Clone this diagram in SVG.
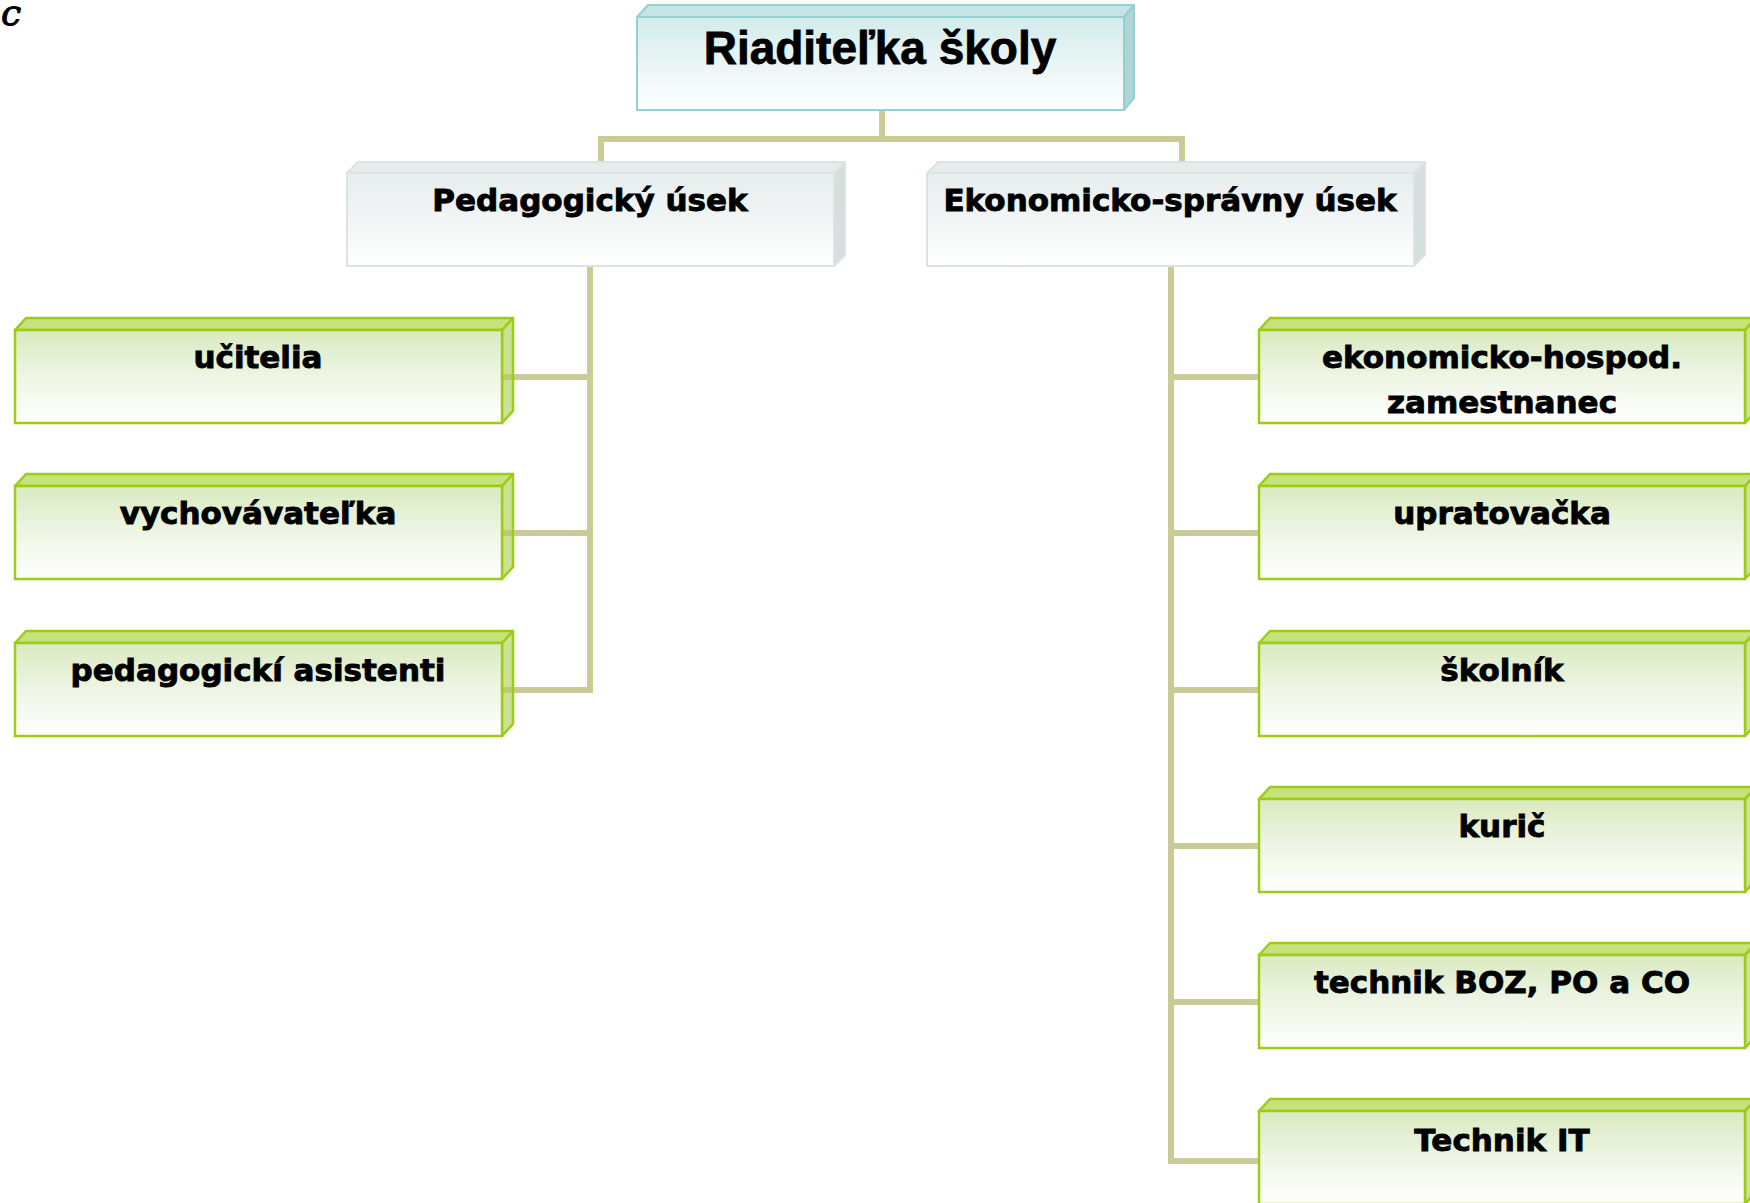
<svg xmlns="http://www.w3.org/2000/svg" width="1750" height="1203" viewBox="0 0 1750 1203">
<style>
.g-front{fill:url(#gGreen);stroke:#9ccc14;stroke-width:2.5}
.g-top{fill:#c6e27c;stroke:#9ccc14;stroke-width:2.5;stroke-linejoin:round}
.g-side{fill:#a9cf4c;fill-opacity:0.6;stroke:#9ccc14;stroke-width:2.5;stroke-linejoin:round}
.b-front{fill:url(#gBlue);stroke:#96cfcf;stroke-width:2}
.b-top{fill:#c5e4e4;stroke:#96cfcf;stroke-width:2;stroke-linejoin:round}
.b-side{fill:#aed5d5;stroke:#96cfcf;stroke-width:2;stroke-linejoin:round}
.s-front{fill:url(#gGray);stroke:#dbe3e3;stroke-width:2}
.s-top{fill:#e6ecec;stroke:#dbe3e3;stroke-width:2;stroke-linejoin:round}
.s-side{fill:#d6dede;stroke:#dbe3e3;stroke-width:2;stroke-linejoin:round}
.conn{fill:none;stroke:#cbcb98;stroke-width:6;stroke-linecap:square;stroke-linejoin:miter}
.lbl{font-family:"DejaVu Sans",Verdana,sans-serif;font-weight:bold;font-size:31px;fill:#000;stroke:#000;stroke-width:0.9;text-anchor:middle}
.title{font-family:"Liberation Sans",Arial,sans-serif;font-weight:bold;font-size:46px;fill:#000;stroke:#000;stroke-width:0.8;text-anchor:middle}
</style>
<defs>
<linearGradient id="gGreen" x1="0" y1="0" x2="0" y2="1">
<stop offset="0" stop-color="#d9eac0"/><stop offset="0.5" stop-color="#eef5e4"/><stop offset="1" stop-color="#ffffff"/>
</linearGradient>
<linearGradient id="gBlue" x1="0" y1="0" x2="0" y2="1">
<stop offset="0" stop-color="#d3ebeb"/><stop offset="0.55" stop-color="#ecf6f6"/><stop offset="1" stop-color="#ffffff"/>
</linearGradient>
<linearGradient id="gGray" x1="0" y1="0" x2="0" y2="1">
<stop offset="0" stop-color="#e6eded"/><stop offset="0.55" stop-color="#f3f6f6"/><stop offset="1" stop-color="#ffffff"/>
</linearGradient>
</defs>
<rect width="1750" height="1203" fill="#ffffff"/>
<text x="1" y="25" font-family="'DejaVu Serif',serif" font-style="italic" font-size="36" fill="#000" stroke="#000" stroke-width="1">c</text>

<g id="connectors">
<polyline class="conn" points="882,110 882,139"/>
<polyline class="conn" points="601,173 601,139 1182,139 1182,173"/>
<polyline class="conn" points="590,266 590,690"/>
<polyline class="conn" points="495,377 590,377"/>
<polyline class="conn" points="495,533 590,533"/>
<polyline class="conn" points="495,690 590,690"/>
<polyline class="conn" points="1171,266 1171,1161 1259,1161"/>
<polyline class="conn" points="1171,377 1259,377"/>
<polyline class="conn" points="1171,533 1259,533"/>
<polyline class="conn" points="1171,690 1259,690"/>
<polyline class="conn" points="1171,846 1259,846"/>
<polyline class="conn" points="1171,1002 1259,1002"/>
</g>

<g id="node-riaditelka">
<polygon class="b-top" points="637,17 648,5 1134,5 1124,17"/>
<polygon class="b-side" points="1124,17 1134,5 1134,98 1124,110"/>
<rect class="b-front" x="637" y="17" width="487" height="93"/>
<text class="title" x="880" y="64">Riaditeľka školy</text>
</g>

<g id="node-pedagogicky">
<polygon class="s-top" points="347,173 358,162 845,162 834,173"/>
<polygon class="s-side" points="834,173 845,162 845,255 834,266"/>
<rect class="s-front" x="347" y="173" width="487" height="93"/>
<text class="lbl" x="590" y="211">Pedagogický úsek</text>
</g>

<g id="node-ekonomicko">
<polygon class="s-top" points="927,173 938,162 1425,162 1414,173"/>
<polygon class="s-side" points="1414,173 1425,162 1425,255 1414,266"/>
<rect class="s-front" x="927" y="173" width="487" height="93"/>
<text class="lbl" x="1170" y="211">Ekonomicko-správny úsek</text>
</g>

<g id="node-ucitelia">
<polygon class="g-top" points="15,330 26,318 513,318 502,330"/>
<polygon class="g-side" points="502,330 513,318 513,411 502,423"/>
<rect class="g-front" x="15" y="330" width="487" height="93"/>
<text class="lbl" x="258" y="368">učitelia</text>
</g>

<g id="node-vychovavatelka">
<polygon class="g-top" points="15,486 26,474 513,474 502,486"/>
<polygon class="g-side" points="502,486 513,474 513,567 502,579"/>
<rect class="g-front" x="15" y="486" width="487" height="93"/>
<text class="lbl" x="258" y="524">vychovávateľka</text>
</g>

<g id="node-asistenti">
<polygon class="g-top" points="15,643 26,631 513,631 502,643"/>
<polygon class="g-side" points="502,643 513,631 513,724 502,736"/>
<rect class="g-front" x="15" y="643" width="487" height="93"/>
<text class="lbl" x="258" y="681">pedagogickí asistenti</text>
</g>

<g id="node-ekonom">
<polygon class="g-top" points="1259,330 1270,318 1756,318 1745,330"/>
<polygon class="g-side" points="1745,330 1756,318 1756,411 1745,423"/>
<rect class="g-front" x="1259" y="330" width="486" height="93"/>
<text class="lbl" x="1502" y="368">ekonomicko-hospod.</text>
<text class="lbl" x="1502" y="413">zamestnanec</text>
</g>

<g id="node-upratovacka">
<polygon class="g-top" points="1259,486 1270,474 1756,474 1745,486"/>
<polygon class="g-side" points="1745,486 1756,474 1756,567 1745,579"/>
<rect class="g-front" x="1259" y="486" width="486" height="93"/>
<text class="lbl" x="1502" y="524">upratovačka</text>
</g>

<g id="node-skolnik">
<polygon class="g-top" points="1259,643 1270,631 1756,631 1745,643"/>
<polygon class="g-side" points="1745,643 1756,631 1756,724 1745,736"/>
<rect class="g-front" x="1259" y="643" width="486" height="93"/>
<text class="lbl" x="1502" y="681">školník</text>
</g>

<g id="node-kuric">
<polygon class="g-top" points="1259,799 1270,787 1756,787 1745,799"/>
<polygon class="g-side" points="1745,799 1756,787 1756,880 1745,892"/>
<rect class="g-front" x="1259" y="799" width="486" height="93"/>
<text class="lbl" x="1502" y="837">kurič</text>
</g>

<g id="node-technik-boz">
<polygon class="g-top" points="1259,955 1270,943 1756,943 1745,955"/>
<polygon class="g-side" points="1745,955 1756,943 1756,1036 1745,1048"/>
<rect class="g-front" x="1259" y="955" width="486" height="93"/>
<text class="lbl" x="1502" y="993">technik BOZ, PO a CO</text>
</g>

<g id="node-technik-it">
<polygon class="g-top" points="1259,1111 1270,1099 1756,1099 1745,1111"/>
<polygon class="g-side" points="1745,1111 1756,1099 1756,1192 1745,1204"/>
<rect class="g-front" x="1259" y="1111" width="486" height="93"/>
<text class="lbl" x="1502" y="1151">Technik IT</text>
</g>
</svg>
